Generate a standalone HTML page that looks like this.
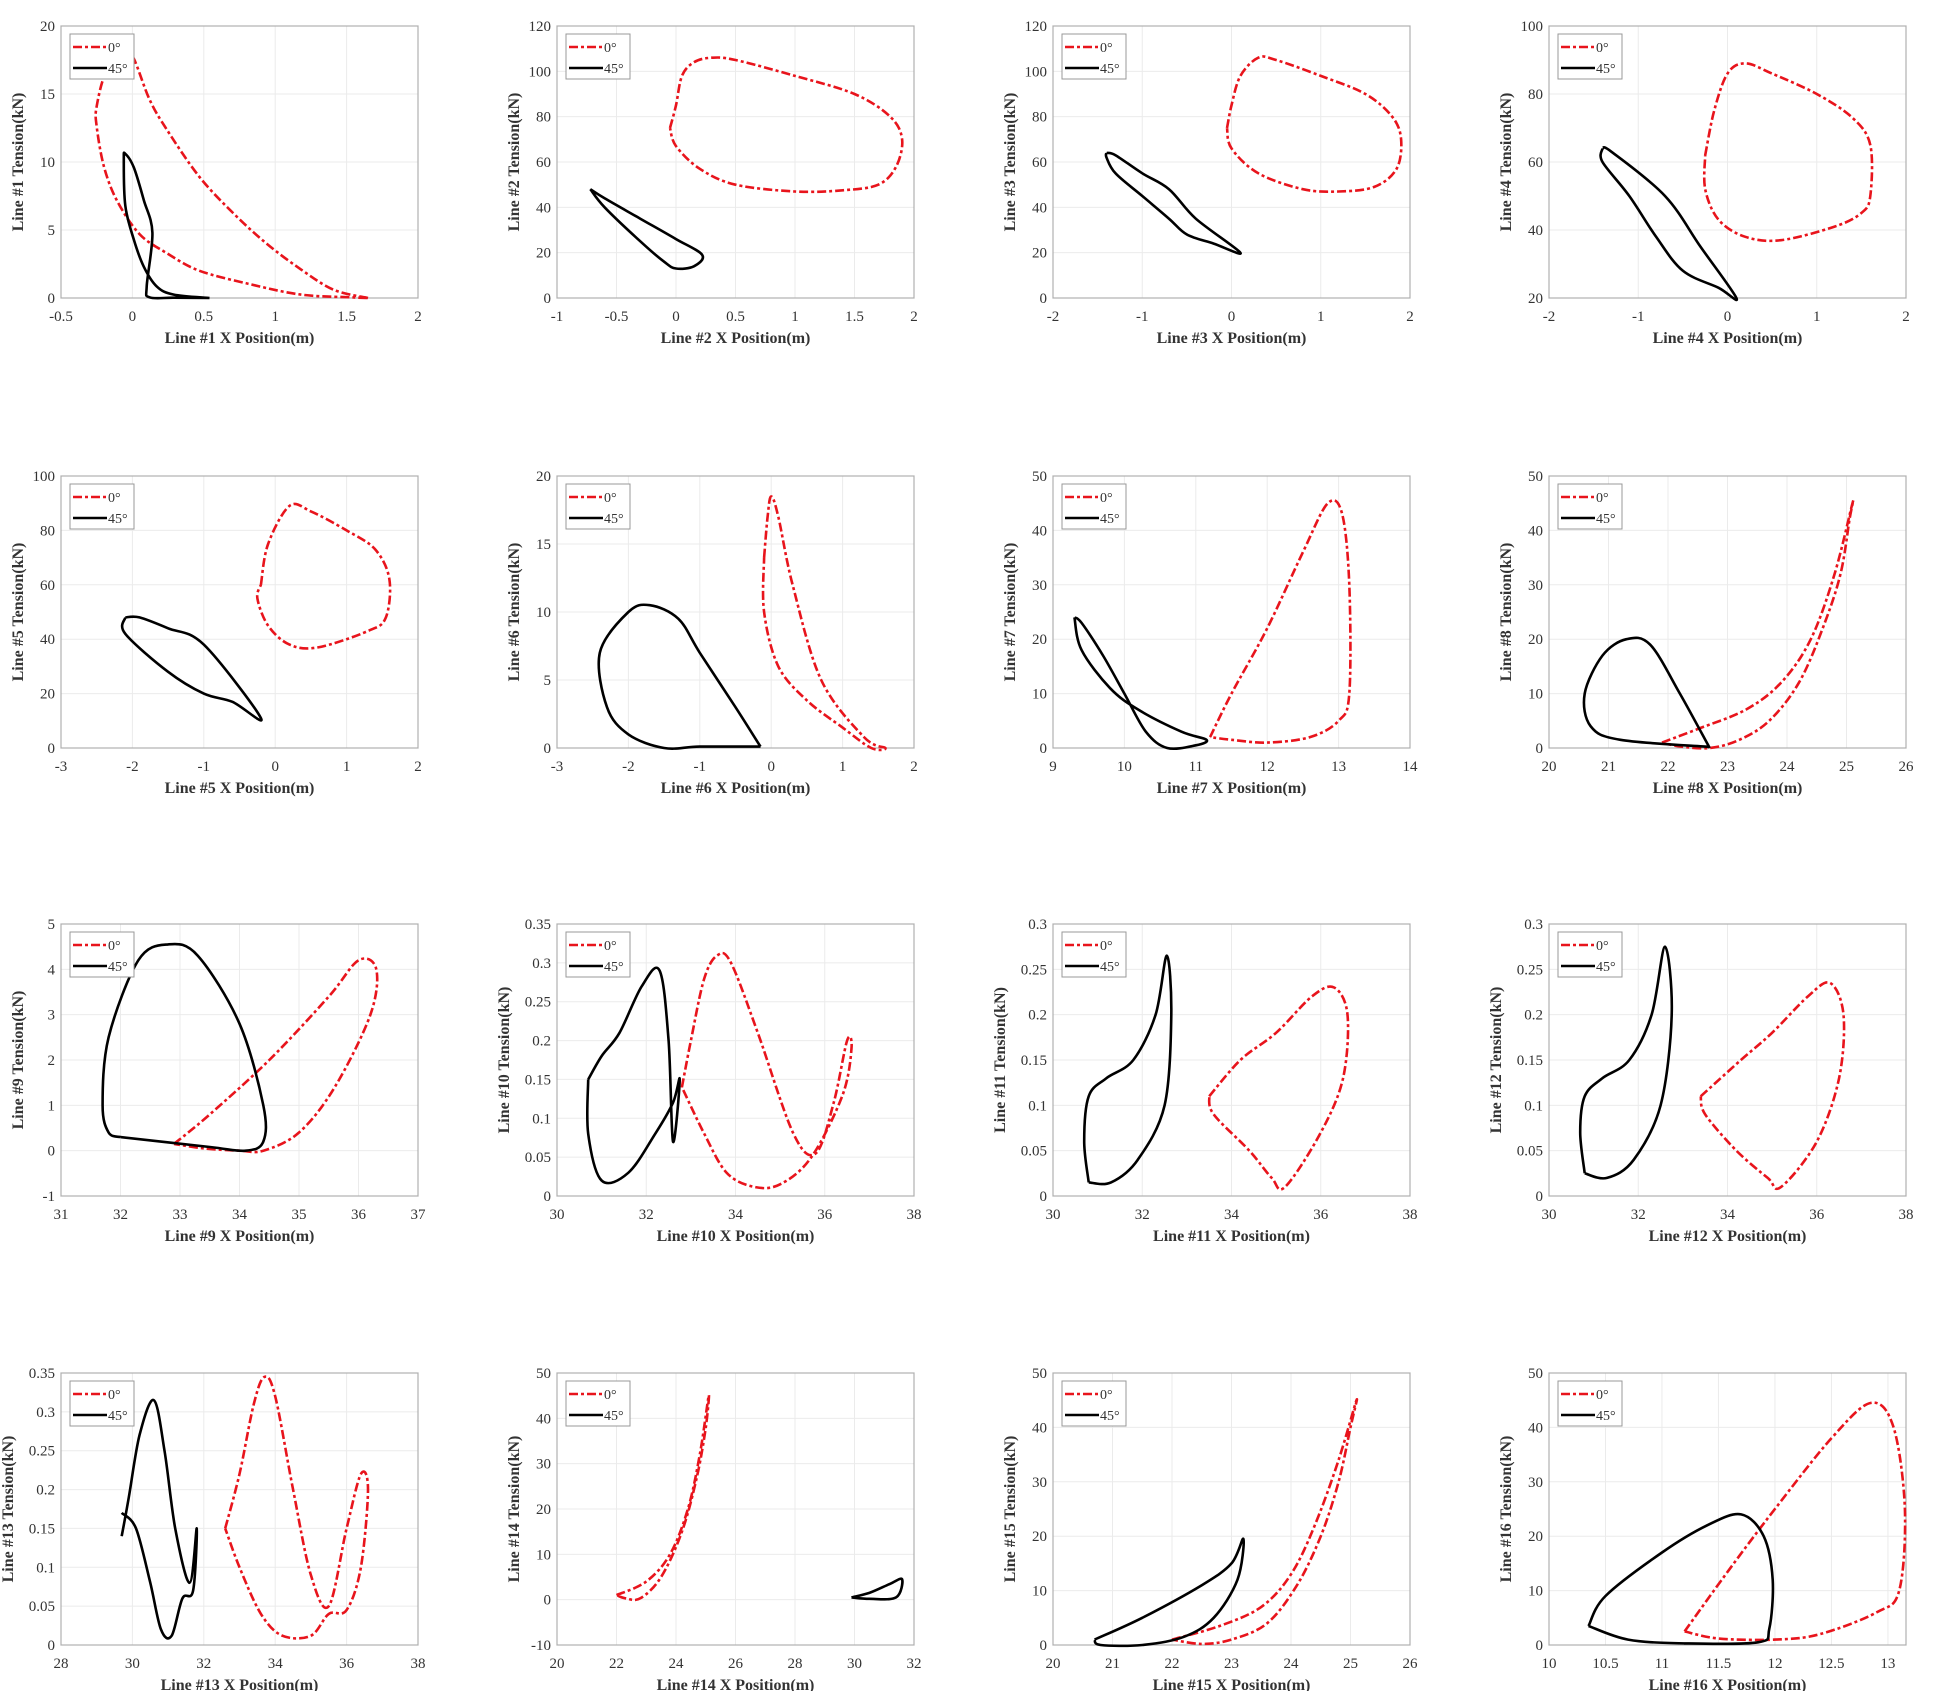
<!DOCTYPE html>
<html><head><meta charset="utf-8">
<style>
html,body{margin:0;padding:0;background:#fff;}
svg{display:block;font-family:"Liberation Serif",serif;}
</style></head>
<body>
<svg id="fig" width="1950" height="1691" viewBox="0 0 1950 1691" xmlns="http://www.w3.org/2000/svg"></svg>
<script>
// axis limits and ticks per subplot
const xLims=[[-0.5,2],[-1,2],[-2,2],[-2,2],[-3,2],[-3,2],[9,14],[20,26],[31,37],[30,38],[30,38],[30,38],[28,38],[20,32],[20,26],[10,13.16]];
const yLims=[[0,20],[0,120],[0,120],[20,100],[0,100],[0,20],[0,50],[0,50],[-1,5],[0,0.35],[0,0.3],[0,0.3],[0,0.35],[-10,50],[0,50],[0,50]];
const xTicks=[[-0.5,0,0.5,1,1.5,2],[-1,-0.5,0,0.5,1,1.5,2],[-2,-1,0,1,2],[-2,-1,0,1,2],[-3,-2,-1,0,1,2],[-3,-2,-1,0,1,2],[9,10,11,12,13,14],[20,21,22,23,24,25,26],[31,32,33,34,35,36,37],[30,32,34,36,38],[30,32,34,36,38],[30,32,34,36,38],[28,30,32,34,36,38],[20,22,24,26,28,30,32],[20,21,22,23,24,25,26],[10,10.5,11,11.5,12,12.5,13]];
const yTicks=[[0,5,10,15,20],[0,20,40,60,80,100,120],[0,20,40,60,80,100,120],[20,40,60,80,100],[0,20,40,60,80,100],[0,5,10,15,20],[0,10,20,30,40,50],[0,10,20,30,40,50],[-1,0,1,2,3,4,5],[0,0.05,0.1,0.15,0.2,0.25,0.3,0.35],[0,0.05,0.1,0.15,0.2,0.25,0.3],[0,0.05,0.1,0.15,0.2,0.25,0.3],[0,0.05,0.1,0.15,0.2,0.25,0.3,0.35],[-10,0,10,20,30,40,50],[0,10,20,30,40,50],[0,10,20,30,40,50]];

// 0° series (red)
const red1=[[1.65,0],[1.41,0.6],[1.18,2.1],[0.94,4.0],[0.71,6.2],[0.47,8.9],[0.24,12.4],[0.12,14.6],[0.01,17.6],[-0.04,17.9],[-0.18,16.7],[-0.25,14.1],[-0.25,12.6],[-0.2,9.7],[-0.11,7.2],[0.05,4.7],[0.24,3.3],[0.47,2.0],[0.83,1.0],[1.18,0.25],[1.53,0.05],[1.65,0]];
const red2=[[-0.05,75],[0,85],[0.05,98],[0.15,104],[0.3,106],[0.5,105],[1,98],[1.5,90],[1.8,80],[1.9,70],[1.85,58],[1.7,50],[1.4,47.5],[1,47],[0.5,50],[0.2,57],[0,67],[-0.05,75]];
const red3=[[-0.05,75],[0,85],[0.1,98],[0.3,106],[0.5,105],[1,98],[1.5,90],[1.8,80],[1.9,70],[1.85,57],[1.6,49],[1.2,47],[0.8,48],[0.3,55],[0,66],[-0.05,75]];
const red4=[[-0.25,62],[-0.15,75],[0,86],[0.2,89],[0.5,86],[1,80],[1.4,73],[1.6,65],[1.6,50],[1.5,45],[1.2,41],[0.6,37],[0.2,38],[-0.1,43],[-0.25,52],[-0.25,62]];
const red5=[[-0.2,60],[-0.1,75],[0.2,89],[0.5,87],[1,80],[1.4,73],[1.6,62],[1.55,48],[1.3,43],[0.6,37],[0.2,38],[-0.1,45],[-0.25,55],[-0.2,60]];
const red6=[[-0.1,14],[-0.05,17],[0,18.5],[0.1,17],[0.3,12],[0.7,5],[1.3,0.8],[1.6,0],[1.4,0],[1,1.5],[0.5,3.5],[0.1,6],[-0.1,10],[-0.1,14]];
const red7=[[11.2,2],[11.5,10],[12,22],[12.5,36],[12.85,45],[13.05,43],[13.15,30],[13.15,10],[13,5],[12.6,2],[12,1],[11.5,1.5],[11.2,2]];
const red8=[[21.9,1],[22.5,3.5],[23.3,7],[23.9,12],[24.4,20],[24.8,32],[25.1,45],[25.05,42],[24.9,32],[24.6,22],[24.2,12],[23.7,5],[23.2,1.5],[22.7,0],[22.2,0.3],[21.9,1]];
const red9=[[32.9,0.15],[33.5,0.8],[34.5,2],[35.5,3.4],[36,4.2],[36.3,4],[36.2,3],[35.6,1.4],[35,0.4],[34.4,0],[34,0],[33.4,0.05],[32.9,0.15]];
const red10=[[32.8,0.14],[33,0.2],[33.3,0.28],[33.6,0.31],[33.9,0.3],[34.5,0.21],[35.3,0.08],[35.8,0.055],[36.2,0.12],[36.5,0.2],[36.6,0.19],[36.4,0.13],[35.7,0.05],[35,0.015],[34.4,0.012],[33.8,0.03],[33.3,0.08],[32.8,0.14]];
const red11=[[33.5,0.11],[34.2,0.15],[35,0.18],[35.8,0.22],[36.3,0.23],[36.6,0.2],[36.5,0.13],[36,0.07],[35.2,0.01],[34.9,0.02],[34.4,0.05],[33.6,0.09],[33.5,0.11]];
const red12=[[33.4,0.11],[34.3,0.15],[35,0.18],[35.8,0.22],[36.3,0.235],[36.6,0.2],[36.5,0.13],[36,0.06],[35.2,0.01],[34.9,0.02],[34.2,0.05],[33.5,0.09],[33.4,0.11]];
const red13=[[32.6,0.15],[33,0.22],[33.4,0.31],[33.7,0.345],[34,0.32],[34.5,0.2],[35,0.09],[35.5,0.05],[36,0.15],[36.4,0.22],[36.6,0.2],[36.4,0.1],[36,0.045],[35.5,0.04],[35,0.012],[34.2,0.012],[33.6,0.04],[33,0.1],[32.6,0.15]];
const red14=[[22,1],[23,4],[23.8,10],[24.4,20],[24.8,32],[25.1,45],[25,38],[24.7,27],[24.2,15],[23.5,5],[22.8,0.3],[22.3,0.3],[22,1]];
const red15=[[22,1],[22.8,3.5],[23.5,7],[24,13],[24.4,22],[24.8,34],[25.1,45],[25,40],[24.8,30],[24.5,20],[24.1,11],[23.6,4],[23,1],[22.5,0.2],[22,1]];
const red16=[[11.2,2.5],[11.6,14],[12,25],[12.5,38],[12.85,44.5],[13.05,40],[13.15,25],[13.1,10],[12.9,6],[12.4,2],[12,1],[11.5,1.2],[11.2,2.5]];

// 45° series (black)
const blk1=[[0.54,0],[0.29,0.02],[0.12,0.05],[0.1,0.85],[0.14,4.8],[0.08,7.2],[0.01,9.6],[-0.05,10.6],[-0.06,10.2],[-0.05,6.8],[0.01,4.3],[0.08,2.3],[0.17,0.85],[0.29,0.25],[0.54,0]];
const blk2=[[-0.72,48],[-0.6,40],[-0.3,25],[-0.1,16],[0,13],[0.15,14],[0.22,19],[0,26],[-0.3,35],[-0.6,44],[-0.72,48]];
const blk3=[[-1.4,64],[-1.3,63],[-1,55],[-0.7,48],[-0.4,35],[0.1,20],[-0.2,24],[-0.5,28],[-0.7,35],[-1,45],[-1.3,55],[-1.4,62],[-1.4,64]];
const blk4=[[-1.4,64],[-1.3,63],[-0.7,50],[-0.3,35],[0.1,20],[-0.1,23],[-0.5,28],[-0.8,38],[-1.1,50],[-1.4,60],[-1.4,64]];
const blk5=[[-2.1,48],[-1.9,48],[-1.5,44],[-1,38],[-0.2,11],[-0.6,17],[-1,20],[-1.5,28],[-2.1,42],[-2.1,48]];
const blk6=[[-0.15,0.1],[-0.5,3],[-1,7],[-1.3,9.5],[-1.7,10.5],[-2,10],[-2.4,7],[-2.3,3],[-2,1],[-1.5,0],[-1,0.1],[-0.15,0.1]];
const blk7=[[9.3,24],[9.4,23],[9.7,17],[10,10],[10.3,3],[10.6,0],[11,0.5],[11.15,1.5],[10.8,3],[10.2,7],[9.8,11],[9.4,18],[9.3,24]];
const blk8=[[22.7,0],[22.2,10],[21.7,19],[21.3,20],[20.9,17],[20.6,10],[20.7,4],[21.2,1.5],[22.7,0.2]];
const blk9=[[32,0.3],[33.5,0.08],[34.1,0],[34.4,0.2],[34.4,1],[34,2.8],[33.3,4.3],[32.8,4.55],[32.3,4.2],[31.8,2.5],[31.7,1],[31.8,0.4],[32,0.3]];
const blk10=[[30.7,0.15],[31,0.18],[31.4,0.21],[31.9,0.27],[32.3,0.29],[32.5,0.2],[32.6,0.07],[32.75,0.15],[32.6,0.12],[32.2,0.08],[31.6,0.03],[31,0.02],[30.7,0.08],[30.7,0.15]];
const blk11=[[30.8,0.015],[30.7,0.06],[30.8,0.11],[31.2,0.13],[31.8,0.15],[32.3,0.2],[32.55,0.265],[32.65,0.2],[32.5,0.1],[31.9,0.04],[31.3,0.015],[30.8,0.015]];
const blk12=[[30.8,0.025],[30.7,0.07],[30.8,0.11],[31.2,0.13],[31.8,0.15],[32.3,0.2],[32.6,0.275],[32.75,0.2],[32.5,0.1],[31.9,0.04],[31.3,0.02],[30.8,0.025]];
const blk13=[[29.7,0.14],[29.9,0.19],[30.2,0.27],[30.6,0.315],[30.9,0.25],[31.2,0.15],[31.6,0.08],[31.8,0.15],[31.7,0.07],[31.4,0.06],[31.1,0.012],[30.8,0.02],[30.5,0.08],[30.1,0.15],[29.7,0.17]];
const blk14=[[29.9,0.5],[30.5,1.5],[31.2,3.5],[31.6,4.5],[31.4,0.5],[30.5,0.2],[29.9,0.5]];
const blk15=[[20.7,1],[21.5,5],[22.5,11],[23,15],[23.2,19.5],[23.1,12],[22.7,5],[22.2,1.5],[21.5,0],[20.8,0],[20.7,1]];
const blk16=[[10.35,3.5],[10.5,9],[11,17],[11.4,22],[11.7,24],[11.9,20],[11.98,12],[11.95,3],[11.85,0.5],[11.2,0.3],[10.7,1],[10.35,3.5]];

const redAll=[red1,red2,red3,red4,red5,red6,red7,red8,red9,red10,red11,red12,red13,red14,red15,red16];
const blkAll=[blk1,blk2,blk3,blk4,blk5,blk6,blk7,blk8,blk9,blk10,blk11,blk12,blk13,blk14,blk15,blk16];

const NS='http://www.w3.org/2000/svg';
const svg=document.getElementById('fig');
const colL=[61,557,1053,1549], rowT=[26,476,924,1373], W=357, H=272;

function mk(tag,attrs,parent){const e=document.createElementNS(NS,tag);for(const k in attrs)e.setAttribute(k,attrs[k]);parent.appendChild(e);return e;}
function smoothPath(pts){
  let d='M'+pts[0][0].toFixed(1)+','+pts[0][1].toFixed(1);
  for(let i=0;i<pts.length-1;i++){
    const p0=pts[i-1]||pts[i],p1=pts[i],p2=pts[i+1],p3=pts[i+2]||p2;
    const c1=[p1[0]+(p2[0]-p0[0])/6,p1[1]+(p2[1]-p0[1])/6];
    const c2=[p2[0]-(p3[0]-p1[0])/6,p2[1]-(p3[1]-p1[1])/6];
    d+=' C'+c1[0].toFixed(1)+','+c1[1].toFixed(1)+' '+c2[0].toFixed(1)+','+c2[1].toFixed(1)+' '+p2[0].toFixed(1)+','+p2[1].toFixed(1);
  }
  return d;
}

for(let i=0;i<16;i++){
  const L=colL[i%4], T=rowT[Math.floor(i/4)];
  const [x0,x1]=xLims[i],[y0,y1]=yLims[i];
  const sx=v=>L+(v-x0)/(x1-x0)*W;
  const sy=v=>T+H-(v-y0)/(y1-y0)*H;
  const g=mk('g',{},svg);
  
  
  const bg=mk('rect',{x:L,y:T,width:W,height:H,fill:'#fff'},g);
  
  
  xTicks[i].forEach(v=>{
    const X=sx(v);
    const gl=mk('line',{x1:X,y1:T,x2:X,y2:T+H,stroke:'#ebebeb','stroke-width':1},g);
    
    
    const t=mk('text',{x:X,y:T+H+23,'text-anchor':'middle','font-size':15,fill:'#333'},g);
    t.textContent=String(v);
    
    
  });
  yTicks[i].forEach(v=>{
    const Y=sy(v);
    const gl=mk('line',{x1:L,y1:Y,x2:L+W,y2:Y,stroke:'#ebebeb','stroke-width':1},g);
    
    
    const t=mk('text',{x:L-6,y:Y+5,'text-anchor':'end','font-size':15,fill:'#333'},g);
    t.textContent=String(v);
    
    
  });
  const box=mk('rect',{x:L,y:T,width:W,height:H,fill:'none',stroke:'#b0b0b0','stroke-width':1.2},g);
  
  
  const rp=mk('path',{d:smoothPath(redAll[i].map(p=>[sx(p[0]),sy(p[1])])),fill:'none',stroke:'#e8141c','stroke-width':2.6,'stroke-dasharray':'9,3,3,3','stroke-linejoin':'round'},g);
  
  
  const bp=mk('path',{d:smoothPath(blkAll[i].map(p=>[sx(p[0]),sy(p[1])])),fill:'none',stroke:'#000','stroke-width':2.6,'stroke-linejoin':'round'},g);
  
  
  // legend
  const lg=mk('g',{},g);
  
  
  mk('rect',{x:L+9,y:T+8,width:64,height:45,fill:'#fff',stroke:'#999','stroke-width':1},lg);
  const l1=mk('line',{x1:L+12,y1:T+21,x2:L+46,y2:T+21,stroke:'#e8141c','stroke-width':2.6,'stroke-dasharray':'9,3,3,3'},lg);
  
  
  const t1=mk('text',{x:L+47,y:T+26,'font-size':14,fill:'#333'},lg);t1.textContent='0°';
  
  
  const l2=mk('line',{x1:L+12,y1:T+42,x2:L+46,y2:T+42,stroke:'#000','stroke-width':2.6},lg);
  
  
  const t2=mk('text',{x:L+47,y:T+47,'font-size':14,fill:'#333'},lg);t2.textContent='45°';
  
  
  // axis titles
  const xt=mk('text',{x:L+W/2,y:T+H+45,'text-anchor':'middle','font-size':16,'font-weight':'bold',fill:'#333'},g);
  xt.textContent='Line #'+(i+1)+' X Position(m)';
  
  
  const yx=L-(String(yTicks[i][1]).length>3?48:38), yc=T+H/2;
  const yt=mk('text',{x:yx,y:yc,'text-anchor':'middle','font-size':16,'font-weight':'bold',fill:'#333',transform:'rotate(-90 '+yx+' '+yc+')'},g);
  yt.textContent='Line #'+(i+1)+' Tension(kN)';
  
  
}
</script>
</body></html>
